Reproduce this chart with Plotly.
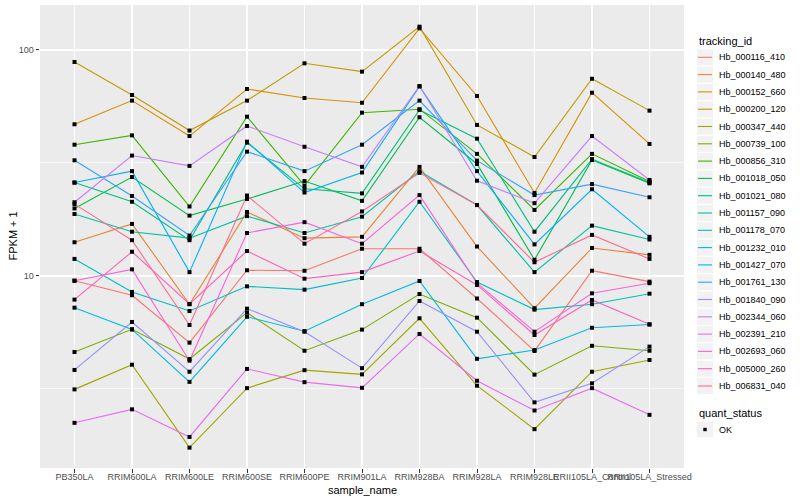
import plotly.graph_objects as go

samples = ["PB350LA", "RRIM600LA", "RRIM600LE", "RRIM600SE", "RRIM600PE", "RRIM901LA",
           "RRIM928BA", "RRIM928LA", "RRIM928LE", "RRII105LA_Control", "RRII105LA_Stressed"]

tracking_ids = ["Hb_000116_410", "Hb_000140_480", "Hb_000152_660", "Hb_000200_120",
                "Hb_000347_440", "Hb_000739_100", "Hb_000856_310", "Hb_001018_050",
                "Hb_001021_080", "Hb_001157_090", "Hb_001178_070", "Hb_001232_010",
                "Hb_001427_070", "Hb_001761_130", "Hb_001840_090", "Hb_002344_060",
                "Hb_002391_210", "Hb_002693_060", "Hb_005000_260", "Hb_006831_040"]

# FPKM + 1 per sample
hb_000116_410 = [9.53, 8.22, 5.07, 10.6, 10.55, 13.2, 13.2, 7.95, 4.66, 10.55, 9.44]
hb_000140_480 = [14.1, 17.0, 7.5, 19.2, 14.7, 14.9, 30.4, 13.5, 7.2, 13.3, 12.4]
hb_000152_660 = [46.9, 59.7, 41.6, 67.2, 61.3, 58.4, 124.7, 62.6, 23.3, 64.7, 38.4]
hb_000200_120 = [88.5, 63.2, 44.0, 59.7, 87.3, 80.2, 126.8, 46.6, 33.6, 74.6, 53.9]
hb_000347_440 = [3.15, 4.05, 1.74, 3.19, 3.83, 3.67, 6.50, 3.27, 2.10, 3.77, 4.25]
hb_000739_100 = [4.61, 5.81, 4.29, 6.88, 4.67, 5.79, 8.32, 6.54, 3.66, 4.91, 4.67]
hb_000856_310 = [38.1, 41.9, 20.3, 50.7, 25.1, 52.8, 54.7, 34.7, 19.6, 34.7, 26.2]
hb_001018_050 = [19.9, 27.4, 18.5, 21.9, 26.3, 21.5, 50.4, 31.3, 11.8, 32.6, 25.7]
hb_001021_080 = [25.9, 21.3, 14.4, 38.9, 24.3, 23.2, 54.3, 40.5, 15.7, 32.9, 25.9]
hb_001157_090 = [18.8, 15.7, 14.7, 18.4, 15.5, 18.3, 29.1, 20.6, 10.4, 16.7, 14.5]
hb_001178_070 = [11.9, 8.5, 7.0, 9.0, 8.7, 9.8, 21.3, 9.4, 7.1, 7.5, 8.35]
hb_001232_010 = [7.24, 5.8, 3.4, 6.6, 5.7, 7.5, 9.5, 4.3, 4.7, 5.9, 6.1]
hb_001427_070 = [25.9, 29.1, 10.4, 39.3, 23.4, 28.7, 68.9, 29.1, 13.8, 24.2, 14.9]
hb_001761_130 = [32.5, 22.6, 15.1, 35.5, 29.1, 38.1, 59.7, 32.4, 22.8, 25.5, 22.3]
hb_001840_090 = [3.84, 6.26, 3.77, 7.17, 5.67, 3.91, 7.75, 5.67, 2.76, 3.35, 4.87]
hb_002344_060 = [21.2, 34.1, 30.7, 46.1, 37.3, 30.4, 69.3, 26.4, 21.0, 41.6, 26.6]
hb_002391_210 = [2.24, 2.57, 1.94, 3.88, 3.39, 3.20, 5.54, 3.44, 2.54, 3.19, 2.43]
hb_002693_060 = [9.53, 10.7, 4.22, 15.5, 17.3, 13.9, 22.8, 9.29, 5.67, 8.38, 9.29]
hb_005000_260 = [7.86, 12.8, 7.52, 12.9, 9.73, 10.4, 12.9, 9.13, 5.48, 7.83, 6.11]
hb_006831_040 = [20.8, 14.4, 6.07, 22.7, 13.9, 19.3, 28.6, 20.6, 11.5, 15.2, 11.9]

quant_status = "OK"

series = [hb_000116_410, hb_000140_480, hb_000152_660, hb_000200_120, hb_000347_440,
          hb_000739_100, hb_000856_310, hb_001018_050, hb_001021_080, hb_001157_090,
          hb_001178_070, hb_001232_010, hb_001427_070, hb_001761_130, hb_001840_090,
          hb_002344_060, hb_002391_210, hb_002693_060, hb_005000_260, hb_006831_040]

colors = ["#F8766D", "#EA8331", "#D89000", "#C09B00", "#A3A500", "#7CAE00", "#39B600",
          "#00BB4E", "#00BF7D", "#00C1A3", "#00BFC4", "#00BAE0", "#00B0F6", "#35A2FF",
          "#9590FF", "#C77CFF", "#E76BF3", "#FA62DB", "#FF62BC", "#FF6C91"]

fig = go.Figure()
for name, vals, col in zip(tracking_ids, series, colors):
    fig.add_trace(go.Scatter(x=samples, y=vals, mode="lines", name=name,
                             line=dict(color=col, width=1.1), showlegend=False,
                             hoverinfo="skip"))

all_x, all_y = [], []
for vals in series:
    all_x += samples
    all_y += vals
fig.add_trace(go.Scatter(x=all_x, y=all_y, mode="markers", name=quant_status,
                         marker=dict(symbol="square", size=4, color="black"),
                         showlegend=False))

# panel geometry (pixels)
W, H = 800, 500
PL, PR, PT, PB = 40, 684, 5, 468


def px(x):
    return (x - PL) / (PR - PL)


def py(y):
    return (PB - y) / (PB - PT)


shapes = []
annotations = []
FONT = "Liberation Sans, Arial, sans-serif"

# legend: tracking_id
annotations.append(dict(x=px(697), y=py(40.7), xref="paper", yref="paper", text="tracking_id",
                        showarrow=False, xanchor="left", yanchor="middle",
                        font=dict(family=FONT, size=11, color="black")))
for i, (name, col) in enumerate(zip(tracking_ids, colors)):
    cy = 57.3 + 17.3 * i
    shapes.append(dict(type="rect", xref="paper", yref="paper", x0=px(697), x1=px(713),
                       y0=py(cy - 8), y1=py(cy + 8), fillcolor="#F2F2F2", line=dict(width=0),
                       layer="above"))
    shapes.append(dict(type="line", xref="paper", yref="paper", x0=px(698), x1=px(712),
                       y0=py(cy), y1=py(cy), line=dict(color=col, width=1.1), layer="above"))
    annotations.append(dict(x=px(716.5), y=py(cy), xref="paper", yref="paper", text=name,
                            showarrow=False, xanchor="left", yanchor="middle",
                            font=dict(family=FONT, size=9, color="black")))

# legend: quant_status
annotations.append(dict(x=px(697), y=py(412.7), xref="paper", yref="paper", text="quant_status",
                        showarrow=False, xanchor="left", yanchor="middle",
                        font=dict(family=FONT, size=11, color="black")))
shapes.append(dict(type="rect", xref="paper", yref="paper", x0=px(697), x1=px(713),
                   y0=py(429.5 - 8), y1=py(429.5 + 8), fillcolor="#F2F2F2", line=dict(width=0),
                   layer="above"))
shapes.append(dict(type="rect", xref="paper", yref="paper", x0=px(703.3), x1=px(706.7),
                   y0=py(431.2), y1=py(427.8), fillcolor="black", line=dict(width=0),
                   layer="above"))
annotations.append(dict(x=px(716.5), y=py(429.5), xref="paper", yref="paper", text=quant_status,
                        showarrow=False, xanchor="left", yanchor="middle",
                        font=dict(family=FONT, size=9, color="black")))

# axis titles
annotations.append(dict(x=px(362), y=py(489.5), xref="paper", yref="paper", text="sample_name",
                        showarrow=False, xanchor="center", yanchor="middle",
                        font=dict(family=FONT, size=11, color="black")))
annotations.append(dict(x=px(12), y=py(236.5), xref="paper", yref="paper", text="FPKM + 1",
                        showarrow=False, xanchor="center", yanchor="middle", textangle=-90,
                        font=dict(family=FONT, size=11, color="black")))

fig.update_layout(
    width=W, height=H,
    margin=dict(l=PL, r=W - PR, t=PT, b=H - PB, pad=0),
    paper_bgcolor="white", plot_bgcolor="#EBEBEB",
    showlegend=False,
    font=dict(family=FONT, size=9, color="#4D4D4D"),
    shapes=shapes, annotations=annotations,
    xaxis=dict(type="category", categoryorder="array", categoryarray=samples,
               range=[-0.6, 10.6], showgrid=True, gridcolor="white", gridwidth=1.1,
               zeroline=False, showline=False, ticks="outside", ticklen=3.5,
               tickcolor="#333333", tickwidth=1, tickangle=0, ticklabelstandoff=-3,
               tickfont=dict(family=FONT, size=9, color="#4D4D4D"), fixedrange=True),
    yaxis=dict(type="log", range=[0.1504, 2.199], tickvals=[10, 100], ticktext=["10", "100"],
               showgrid=True, gridcolor="white", gridwidth=1.1, zeroline=False,
               showline=False, ticks="outside", ticklen=3.5, tickcolor="#333333", tickwidth=1,
               tickfont=dict(family=FONT, size=9, color="#4D4D4D"),
               minor=dict(tickvals=[3.1623, 31.623], showgrid=True, gridcolor="white",
                          gridwidth=0.55, ticks=""),
               fixedrange=True),
)

fig.write_html("out.html", config={"displayModeBar": False, "staticPlot": True},
               post_script="document.body.style.margin='0';document.body.style.overflow='hidden';")
